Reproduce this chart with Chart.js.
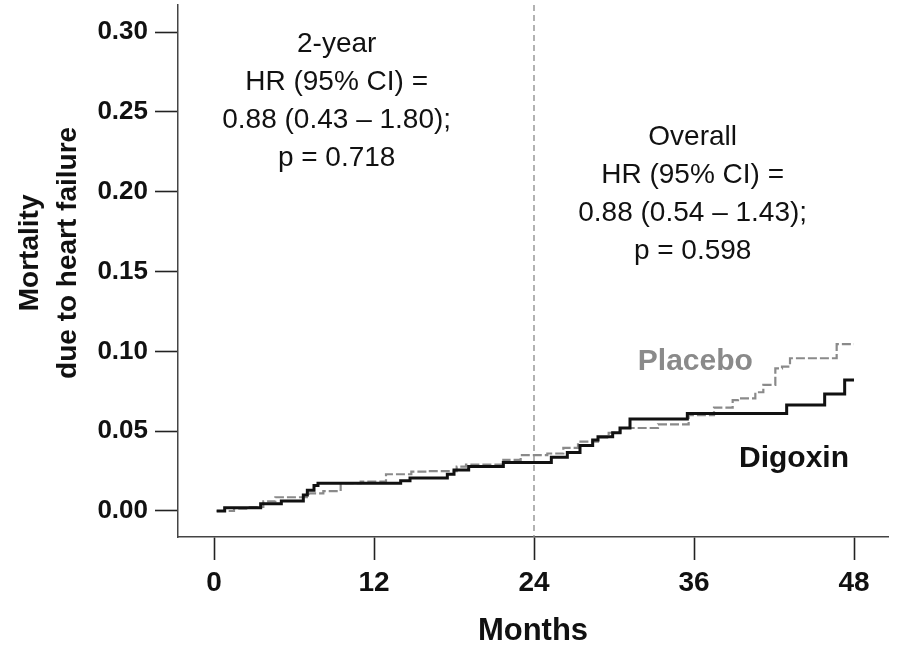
<!DOCTYPE html>
<html>
<head>
<meta charset="utf-8">
<script src="https://cdn.jsdelivr.net/npm/chart.js@4.4.1/dist/chart.umd.min.js"></script>
<style>
  html, body { margin: 0; padding: 0; background: #fff; }
</style>
</head>
<body>
<canvas id="km" width="905" height="652"></canvas>
<script>
// ── Data ────────────────────────────────────────────────────────────────────

const DIGOXIN_MONTHS = [0.2, 0.8, 3.5, 5.05, 6.7, 7.0, 7.5, 7.8, 14.0, 14.7, 17.5, 18.0, 19.1, 21.7,
                        25.3, 26.5, 27.45, 28.4, 28.8, 29.9, 30.45, 31.2, 35.5, 42.95, 45.8, 47.3, 48.0];
const DIGOXIN_RISK   = [0, 0.002, 0.0045, 0.0063, 0.010, 0.013, 0.016, 0.0173, 0.019, 0.0207, 0.023, 0.0257, 0.0278, 0.0303,
                        0.0336, 0.0367, 0.041, 0.0445, 0.0465, 0.049, 0.052, 0.0576, 0.061, 0.0664, 0.0733, 0.082, 0.082];

const PLACEBO_MONTHS = [0.2, 1.5, 2.5, 3.7, 4.6, 7.1, 8.2, 9.5, 11.0, 12.9, 14.8, 16.1, 18.2, 18.9, 21.7,
                        23.0, 25.0, 26.2, 27.3, 28.8, 29.6, 30.5, 33.3, 35.6, 37.5, 38.9, 39.3, 40.6, 41.2,
                        42.1, 42.6, 43.2, 46.7, 48.0];
const PLACEBO_RISK   = [0, 0.0015, 0.0025, 0.006, 0.0086, 0.011, 0.0125, 0.0175, 0.0184, 0.023, 0.0246, 0.025, 0.0278, 0.029, 0.032,
                        0.035, 0.036, 0.0395, 0.0434, 0.046, 0.049, 0.052, 0.0543, 0.060, 0.0647, 0.0695, 0.0706, 0.0744, 0.079,
                        0.0894, 0.0904, 0.0957, 0.1045, 0.1045];

const X_TICKS = [0, 12, 24, 36, 48];
const Y_TICKS = [0, 0.05, 0.10, 0.15, 0.20, 0.25, 0.30];
const REF_MONTH = 24;

const NOTE_2Y      = ['2-year', 'HR (95% CI) =', '0.88 (0.43 \u2013 1.80);', 'p = 0.718'];
const NOTE_OVERALL = ['Overall', 'HR (95% CI) =', '0.88 (0.54 \u2013 1.43);', 'p = 0.598'];
const Y_TITLE      = ['Mortality', 'due to heart failure'];

// ── Helpers ──────────────────────────────────────────────────────────────────

const FONT   = '"Liberation Sans", Arial, sans-serif';
const NARROW = '"Liberation Sans Narrow", "Liberation Sans", Arial, sans-serif';

function toPoints(xs, ys) {
  return xs.map((m, i) => ({ x: m, y: ys[i] }));
}

function textBlock(ctx, lines, cx, cy, lineH) {
  lines.forEach((l, i) => ctx.fillText(l, cx, cy + i * lineH));
}

// ── Extra drawing: reference line, notes, labels, y title ─────────────────────

const decorations = {
  id: 'decorations',
  beforeDatasetsDraw(chart) {
    const { ctx, chartArea, scales: { x } } = chart;
    const rx = x.getPixelForValue(REF_MONTH);
    ctx.save();
    ctx.strokeStyle = '#8a8a8a';
    ctx.lineWidth = 1.3;
    ctx.setLineDash([6, 4]);
    ctx.beginPath();
    ctx.moveTo(rx, chartArea.top);
    ctx.lineTo(rx, chartArea.bottom);
    ctx.stroke();
    ctx.restore();
  },
  afterDraw(chart) {
    const { ctx, scales: { x, y } } = chart;
    ctx.save();
    ctx.textAlign = 'center';
    ctx.textBaseline = 'middle';

    ctx.fillStyle = '#111';
    ctx.font = `28px ${FONT}`;
    textBlock(ctx, NOTE_2Y, x.getPixelForValue(9.2), y.getPixelForValue(0.2926), 38);
    textBlock(ctx, NOTE_OVERALL, x.getPixelForValue(35.9), y.getPixelForValue(0.2343), 38);

    ctx.font = `bold 30px ${FONT}`;
    ctx.fillStyle = '#8a8a8a';
    ctx.fillText('Placebo', x.getPixelForValue(36.1), y.getPixelForValue(0.0934));
    ctx.fillStyle = '#111';
    ctx.fillText('Digoxin', x.getPixelForValue(43.5), y.getPixelForValue(0.0326));

    // y axis title, two rotated lines
    ctx.font = `bold 28px ${FONT}`;
    ctx.translate(30, y.getPixelForValue(0.1617));
    ctx.rotate(-Math.PI / 2);
    textBlock(ctx, Y_TITLE, 0, 0, 38);
    ctx.restore();
  }
};

// ── Chart ────────────────────────────────────────────────────────────────────

const ctx = document.getElementById('km').getContext('2d');
new Chart(ctx, {
  type: 'line',
  data: {
    datasets: [
      { label: 'Digoxin', data: toPoints(DIGOXIN_MONTHS, DIGOXIN_RISK), stepped: true,
        borderColor: '#111', borderWidth: 3, pointRadius: 0, fill: false },
      { label: 'Placebo', data: toPoints(PLACEBO_MONTHS, PLACEBO_RISK), stepped: true,
        borderColor: '#8a8a8a', borderWidth: 2.2, borderDash: [9, 3], pointRadius: 0, fill: false }
    ]
  },
  options: {
    responsive: false,
    animation: false,
    layout: { padding: { left: 0, right: 17, top: 5, bottom: 0 } },
    plugins: { legend: { display: false }, tooltip: { enabled: false } },
    scales: {
      x: {
        type: 'linear', min: -2.7, max: 50.55,
        afterFit: s => { s.height = 115; },
        afterBuildTicks: s => { s.ticks = X_TICKS.map(v => ({ value: v })); },
        grid: { drawOnChartArea: false, tickLength: 23, tickColor: '#222', tickWidth: 1.6 },
        border: { display: true, color: '#444', width: 1.5 },
        ticks: { color: '#111', padding: 6, maxRotation: 0, font: { family: NARROW, size: 28, weight: 'bold' } },
        title: { display: true, text: 'Months', color: '#111', padding: { top: 0, bottom: 2 },
                 font: { family: NARROW, size: 31, weight: 'bold' } }
      },
      y: {
        type: 'linear', min: -0.0163, max: 0.317,
        afterFit: s => { s.width = 178; s.paddingTop = 0; s.paddingBottom = 0; },
        afterBuildTicks: s => { s.ticks = Y_TICKS.map(v => ({ value: v })); },
        grid: { drawOnChartArea: false, tickLength: 23, tickColor: '#222', tickWidth: 1.6 },
        border: { display: true, color: '#444', width: 1.5 },
        ticks: { color: '#111', padding: 7, callback: v => v.toFixed(2),
                 font: { family: FONT, size: 26, weight: 'bold' } }
      }
    }
  },
  plugins: [decorations]
});
</script>
</body>
</html>
